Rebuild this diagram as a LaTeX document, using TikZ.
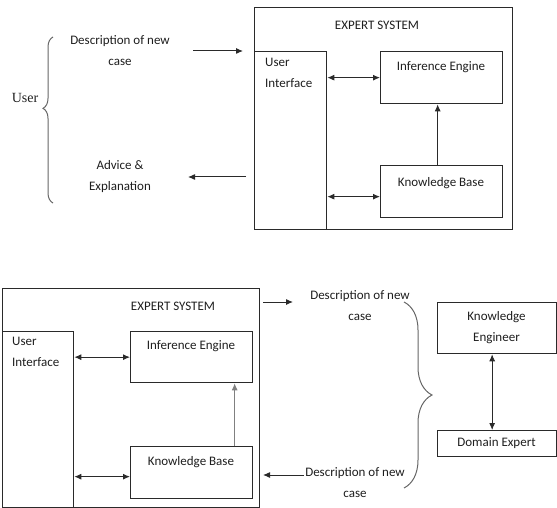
\documentclass[tikz,border=0pt]{standalone}
\usepackage{fontspec}
\setmainfont{Carlito}
\newfontfamily\tnr{Liberation Serif}
\usetikzlibrary{arrows.meta,decorations.pathreplacing}
\definecolor{linec}{HTML}{2A2A2A}
\definecolor{txtc}{HTML}{1E1E1E}
\tikzset{
  box/.style={draw=linec, line width=1.3pt, inner sep=0pt, anchor=north west},
  lbl/.style={text=txtc, inner sep=0pt, font=\fontsize{13}{21}\selectfont, align=center},
  lbll/.style={text=txtc, inner sep=0pt, font=\fontsize{13}{21}\selectfont, align=left, anchor=north west},
  ar/.style={draw=linec, line width=1pt, -{Latex[length=7pt,width=6pt]}},
  dar/.style={draw=linec, line width=1pt, {Latex[length=7pt,width=6pt]}-{Latex[length=7pt,width=6pt]}},
  brc/.style={draw=gray!80!black, line width=1pt, decorate},
}
\begin{document}
\begin{tikzpicture}[x=1pt,y=-1pt]
\useasboundingbox (0,0) rectangle (557,508);
% ---------- top diagram ----------
\node[box, minimum width=258pt, minimum height=222pt] (out1) at (254,7) {};
\node[box, minimum width=72pt, minimum height=178pt] (ui1) at (254,51) {};
\node[box, minimum width=122pt, minimum height=52pt] (ie1) at (380,51) {};
\node[box, minimum width=122pt, minimum height=52pt] (kb1) at (380,165) {};
\node[lbl] (es1) at (377,25) {EXPERT SYSTEM};
\node[lbll] (ui1t) at (265,58) {User\\Interface};
\node[lbl] (ie1t) at (441,67) {Inference Engine};
\node[lbl] (kb1t) at (441,183) {Knowledge Base};
\draw[dar] (ui1.east |- ie1.west) -- (ie1.west);
\draw[dar] ([yshift=-5pt]ui1.east |- kb1.west) -- ([yshift=-5pt]kb1.west);
\draw[ar] ([xshift=-4pt]kb1.north) -- ([xshift=-4pt]ie1.south);
\node[text=txtc, inner sep=0pt, font=\tnr\fontsize{14}{16}\selectfont] (user) at (25,98) {User};
\draw[brc, decoration={brace, amplitude=10pt, aspect=0.57}] (53,203) -- (53,37);
\node[lbl] (d1) at (120,51) {Description of new\\case};
\node[lbl] (a1) at (120,177) {Advice \&\\Explanation};
\coordinate (d1s) at (193,51);
\coordinate (d1e) at (243,51);
\draw[ar] (d1s) -- (d1e);
\coordinate (a1s) at (246,177);
\coordinate (a1e) at (188,177);
\draw[ar] (a1s) -- (a1e);
% ---------- bottom diagram ----------
\node[box, minimum width=257pt, minimum height=219pt] (out2) at (2,288) {};
\node[box, minimum width=71pt, minimum height=176pt] (ui2) at (2,331) {};
\node[box, minimum width=122pt, minimum height=51pt] (ie2) at (130,331) {};
\node[box, minimum width=122pt, minimum height=52pt] (kb2) at (130,446) {};
\node[lbl] (es2) at (173,306) {EXPERT SYSTEM};
\node[lbll] (ui2t) at (12,337) {User\\Interface};
\node[lbl] (ie2t) at (191,346) {Inference Engine};
\node[lbl] (kb2t) at (191,462) {Knowledge Base};
\draw[dar] (ui2.east |- ie2.west) -- (ie2.west);
\draw[dar] ([yshift=-4pt]ui2.east |- kb2.west) -- ([yshift=-4pt]kb2.west);
\draw[ar, draw=gray] ([xshift=43pt]kb2.north) -- ([xshift=43pt]ie2.south);
\coordinate (o2s) at (263,302);
\coordinate (o2e) at (293,302);
\draw[ar] (o2s) -- (o2e);
\node[lbl] (d2) at (360,305.5) {Description of new\\case};
\node[lbl] (d3) at (355,482.5) {Description of new\\case};
\coordinate (d3s) at (304,475);
\coordinate (d3e) at (263,475);
\draw[ar] (d3s) -- (d3e);
\draw[brc, decoration={brace, amplitude=28pt, aspect=0.5}] (404,302) -- (404,488);
\node[box, minimum width=119pt, minimum height=51pt] (ke) at (437,302) {};
\node[lbl] (ket) at (496.5,327.5) {Knowledge\\Engineer};
\node[box, minimum width=119pt, minimum height=26pt] (de) at (437,430) {};
\node[lbl] (det) at (496.5,443) {Domain Expert};
\draw[dar, line width=0.8pt] ([xshift=-5pt]ke.south) -- ([xshift=-5pt]de.north);
\end{tikzpicture}
\end{document}
